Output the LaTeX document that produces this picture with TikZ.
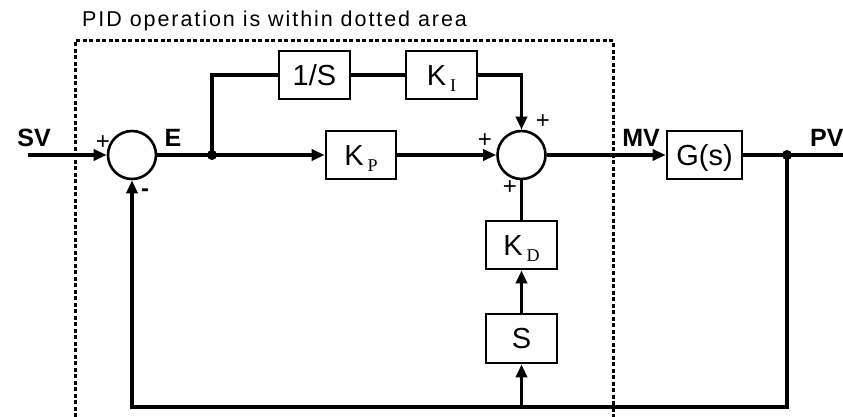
\documentclass[tikz,border=0pt]{standalone}
\usepackage{fontspec}
\setmainfont{Liberation Sans}
\newfontfamily\subfont{Liberation Serif}
\newfontfamily\titlefont[LetterSpace=9]{Liberation Sans}
\usetikzlibrary{arrows.meta}
\newcommand\ksub[1]{\hspace{4pt}\raisebox{-6.6pt}[0pt][0pt]{\subfont\fontsize{18}{18}\selectfont #1}}
\begin{document}
\begin{tikzpicture}[x=1pt,y=-1pt,
  conn/.style={line width=3.4pt},
  arr/.style={conn,-{Triangle[length=13pt,width=11pt]}},
  blk/.style={draw,line width=2.6pt,minimum width=71pt,minimum height=48pt,inner sep=0pt,
    text height=20.5pt,text depth=0pt,font=\fontsize{29}{29}\selectfont},
  sumc/.style={draw,circle,line width=2.6pt,minimum size=48pt,inner sep=0pt},
  sig/.style={font=\fontsize{25}{25}\selectfont\bfseries,inner sep=0pt},
  sgn/.style={font=\fontsize{24}{24}\selectfont,inner sep=0pt},
  jdot/.style={circle,fill,minimum size=10pt,inner sep=0pt},
  pidarea/.style={line width=3pt,dash pattern=on 4pt off 2.5pt}]
\useasboundingbox (0,0) rectangle (843,417);
\fill[white] (0,0) rectangle (843,417);
% blocks
\node[sumc] (s1) at (132,155) {};
\node[sumc] (s2) at (521.5,155) {};
\node[blk] (inv) at (314.5,75) {1/S};
\node[blk] (ki) at (441.5,75) {K\ksub{I}};
\node[blk,minimum width=70pt] (kp) at (361,155) {K\ksub{P}};
\node[blk,minimum width=75pt] (g) at (704.5,155) {G(s)};
\node[blk] (kd) at (521.5,245) {K\ksub{D}};
\node[blk,minimum height=49pt] (sd) at (521.5,338.5) {S};
\node[jdot] (e) at (212,155) {};
\node[jdot] (pvd) at (787,155) {};
\coordinate (svin) at (28,155);
\coordinate (pvout) at (843,155);
\coordinate (br) at (787,407);
\coordinate (bd) at (521.5,407);
% connectors
\draw[arr] (svin) -- (s1.west);
\draw[conn] (s1.east) -- (e.center);
\draw[arr] (e.center) -- (kp.west);
\draw[conn] (e.center) |- (inv.west);
\draw[conn] (inv.east) -- (ki.west);
\draw[arr] (ki.east) -| (s2.north);
\draw[arr] (kp.east) -- (s2.west);
\draw[conn] (kd.north) -- (s2.south);
\draw[arr] (sd.north) -- (kd.south);
\draw[arr] (bd) -- (sd.south);
\draw[arr] (s2.east) -- (g.west);
\draw[conn] (g.east) -- (pvout);
\draw[arr] (pvd.center) -- (br) -| (s1.south);
% dotted area
\draw[pidarea] (75,417) -- (75,41) -- (613,41) -- (613,417);
% labels
\node[anchor=base west,inner sep=0pt,font=\titlefont\fontsize{21.5}{21.5}\selectfont] (title) at (82,27) {PID operation is within dotted area};
\node[sig] (svl) at (34,138) {SV};
\node[sig] (el) at (173,138) {E};
\node[sig] (mvl) at (641,138) {MV};
\node[sig,anchor=west] (pvl) at (810,138) {PV};
\node[sgn] (p1) at (103,143) {+};
\node[sgn,font=\fontsize{24}{24}\selectfont\bfseries] (m1) at (145,193) {-};
\node[sgn] (p2) at (543,122) {+};
\node[sgn] (p3) at (485,141) {+};
\node[sgn] (p4) at (510,188) {+};
\end{tikzpicture}
\end{document}
